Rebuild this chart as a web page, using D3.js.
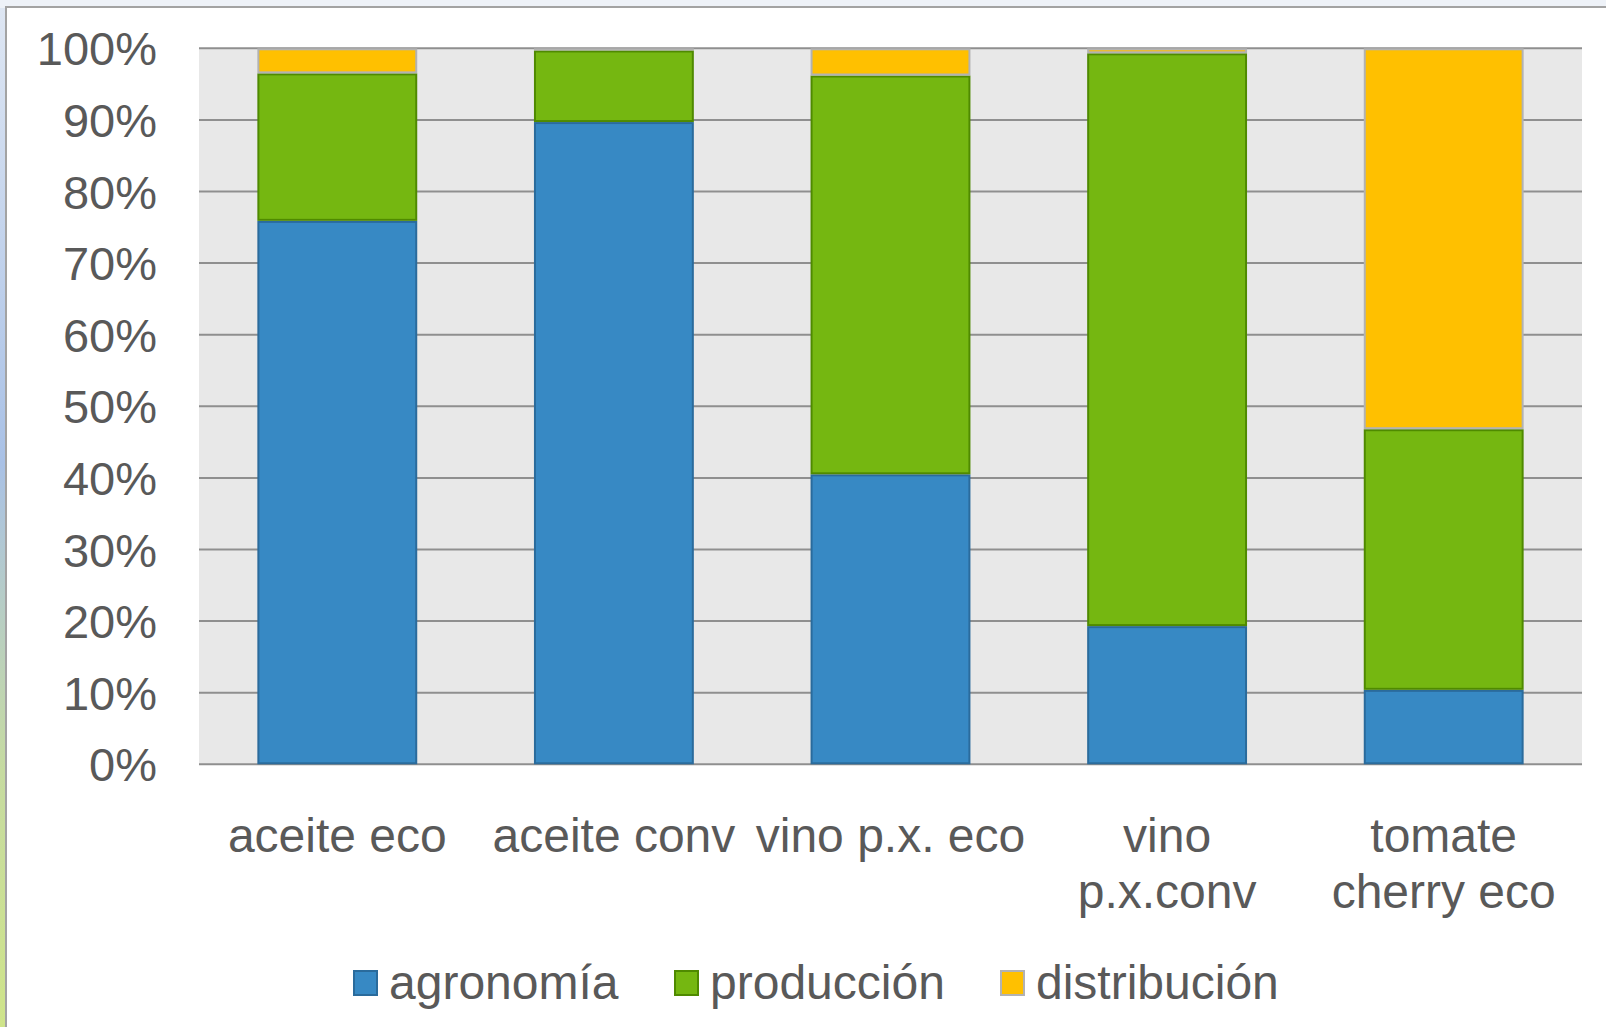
<!DOCTYPE html>
<html><head><meta charset="utf-8">
<script src="https://cdn.jsdelivr.net/npm/d3@7"></script>
<style>html,body{margin:0;padding:0;background:#fff;overflow:hidden}</style>
</head><body>
<svg id="c" width="1606" height="1027"></svg>
<script>
const categories = [["aceite eco"], ["aceite conv"], ["vino p.x. eco"], ["vino", "p.x.conv"], ["tomate", "cherry eco"]];
const seriesNames = ["agronomía", "producción", "distribución"];
const agronomia   = [0.759, 0.897, 0.405, 0.193, 0.104];
const produccion  = [0.206, 0.100, 0.557, 0.800, 0.364];
const distribucion= [0.035, 0.003, 0.038, 0.007, 0.532];
const tickValues = [0, 0.1, 0.2, 0.3, 0.4, 0.5, 0.6, 0.7, 0.8, 0.9, 1.0];
const fills   = ["#3789c4", "#75b711", "#ffc000"];
const strokes = ["#2a6b9c", "#4f8a00", "#b2b2b2"];

(function(){
const svg = d3.select("#c");
const W = 1606, H = 1027;
const font = "'Liberation Sans', Arial, sans-serif";
const textColor = "#595959";

const defs = svg.append("defs");
const lg = defs.append("linearGradient").attr("id","bg").attr("x1",0).attr("y1",0).attr("x2",0).attr("y2",1);
lg.append("stop").attr("offset","0").attr("stop-color","#dfe7f3");
lg.append("stop").attr("offset","0.45").attr("stop-color","#a9c1e6");
lg.append("stop").attr("offset","0.75").attr("stop-color","#c6dba0");
lg.append("stop").attr("offset","1").attr("stop-color","#cfe48a");
svg.append("rect").attr("x",0).attr("y",0).attr("width",W).attr("height",H).attr("fill","url(#bg)");
svg.append("rect").attr("x",0).attr("y",0).attr("width",W).attr("height",8).attr("fill","#eef2f8");
svg.append("rect").attr("x",6).attr("y",7).attr("width",W+20).attr("height",H+20)
  .attr("fill","#fff").attr("stroke","#a3a3a3").attr("stroke-width",2);

const pLeft = 199, pRight = 1582, pTop = 48.3, pBottom = 764.3;
const x = d3.scaleBand().domain(d3.range(categories.length)).range([pLeft, pRight]).paddingInner(0.422).paddingOuter(0.211);
const y = d3.scaleLinear().domain([0, 1]).range([pBottom, pTop]);

svg.append("rect").attr("x",pLeft).attr("y",pTop).attr("width",pRight-pLeft).attr("height",pBottom-pTop).attr("fill","#e8e8e8");

svg.append("g").selectAll("line").data(tickValues).join("line")
  .attr("x1",pLeft).attr("x2",pRight).attr("y1",d=>y(d)).attr("y2",d=>y(d))
  .attr("stroke","#8f8f8f").attr("stroke-width",2);

svg.append("g").selectAll("text").data(tickValues).join("text")
  .attr("x",157).attr("y",d=>y(d)+17).attr("text-anchor","end")
  .attr("font-family",font).attr("font-size",47).attr("fill",textColor)
  .text(d=>d3.format(".0%")(d));

const rows = categories.map((c,i)=>({i, agronomia: agronomia[i], produccion: produccion[i], distribucion: distribucion[i]}));
const stack = d3.stack().keys(["agronomia","produccion","distribucion"])(rows);
stack.forEach((layer, k) => {
  svg.append("g").selectAll("rect").data(layer).join("rect")
    .attr("x", d => x(d.data.i) + 1)
    .attr("width", x.bandwidth() - 2)
    .attr("y", d => y(d[1]) + 1)
    .attr("height", d => Math.max(0, y(d[0]) - y(d[1]) - 2))
    .attr("fill", fills[k]).attr("stroke", strokes[k]).attr("stroke-width", 2);
});

const xl = svg.append("g");
categories.forEach((lines, i) => {
  const t = xl.append("text").attr("text-anchor","middle")
    .attr("font-family",font).attr("font-size",48).attr("fill",textColor);
  lines.forEach((ln, j) => {
    t.append("tspan").attr("x", x(i) + x.bandwidth()/2).attr("y", 852 + j*55.5).text(ln);
  });
});

const legendX = [353, 674, 1000];
const lgG = svg.append("g");
seriesNames.forEach((name, k) => {
  lgG.append("rect").attr("x", legendX[k]+1).attr("y", 971).attr("width", 23).attr("height", 24)
    .attr("fill", fills[k]).attr("stroke", strokes[k]).attr("stroke-width", 2);
  lgG.append("text").attr("x", legendX[k] + 36).attr("y", 999)
    .attr("font-family",font).attr("font-size",48).attr("fill",textColor).text(name);
});
})();
</script>
</body></html>
